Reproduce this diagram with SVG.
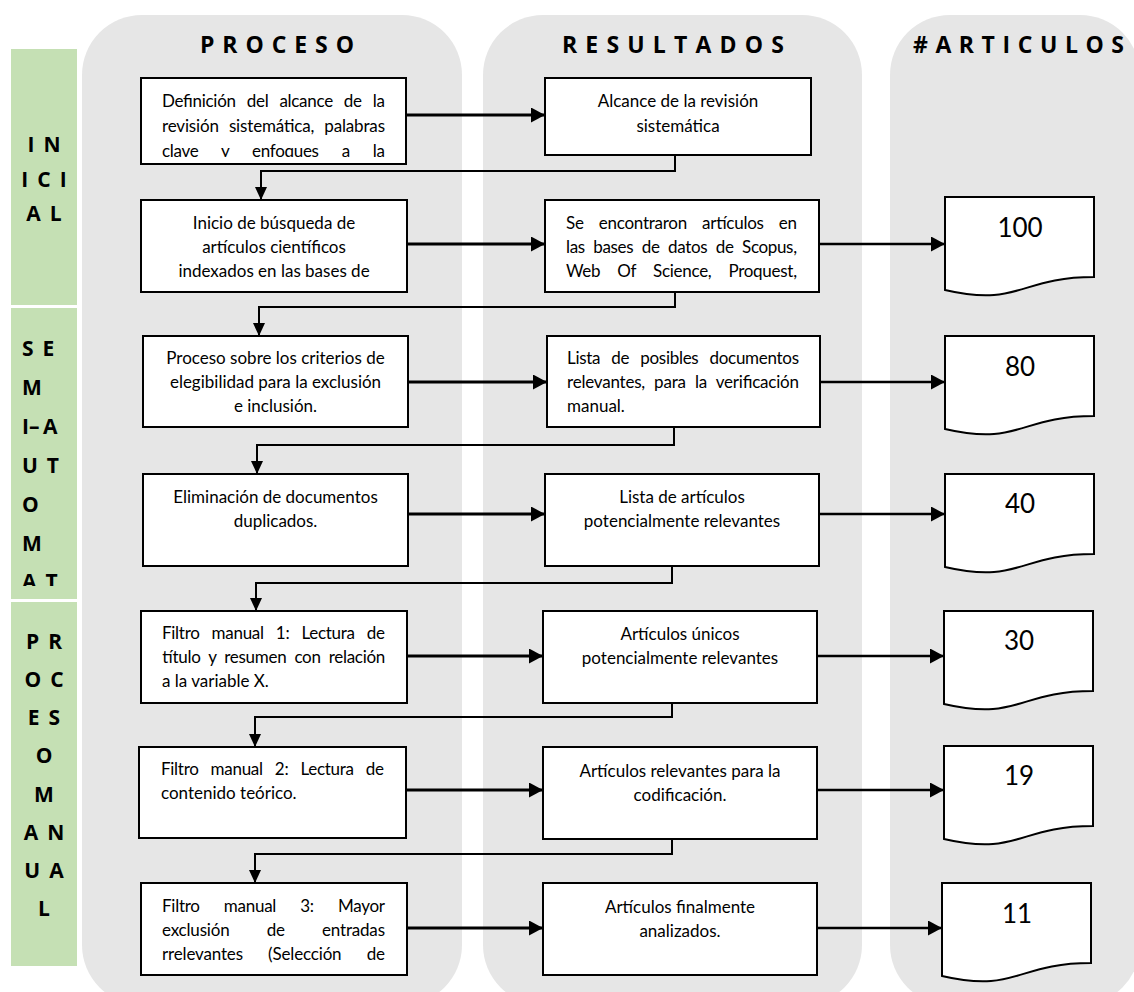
<svg xmlns="http://www.w3.org/2000/svg" width="1134" height="992" viewBox="0 0 1134 992">
<style>
.col{fill:#E6E6E6}
.side{fill:#C5E0B4}
.box{fill:#fff;stroke:#000;stroke-width:2}
.t{font-family:Lato,"Open Sans",sans-serif;font-size:17px;fill:#000}
.c{text-anchor:middle}
.num{font-family:Lato,"Open Sans",sans-serif;font-size:26px;text-anchor:middle;fill:#000}
.hdr{font-family:"Open Sans","DejaVu Sans",sans-serif;font-weight:700;font-size:23px;fill:#000}
.sd{font-family:"Open Sans","DejaVu Sans",sans-serif;font-weight:700;font-size:21px;fill:#000;letter-spacing:9px}
.sdc{text-anchor:middle}
.arr{stroke:#000;stroke-width:3;fill:none;marker-end:url(#ah)}
.arr2{stroke:#000;stroke-width:2.5;fill:none;marker-end:url(#ah)}
.elb{stroke:#000;stroke-width:2;fill:none;marker-end:url(#ahv)}
</style>
<defs>
<marker id="ah" markerUnits="userSpaceOnUse" markerWidth="14" markerHeight="15" refX="14" refY="7.5" orient="auto"><path d="M0,0 L14,7.5 L0,15 Z" fill="#000"/></marker>
<marker id="ahv" markerUnits="userSpaceOnUse" markerWidth="13" markerHeight="12" refX="13" refY="6" orient="auto"><path d="M0,0 L13,6 L0,12 Z" fill="#000"/></marker>
<path id="doc" d="M0,0 H149 V80 C74.5,80 74.5,110.4 0,93 Z" fill="#fff" stroke="#000" stroke-width="2"/>
<clipPath id="clipP1"><rect x="141" y="78" width="265" height="79"/></clipPath>
<clipPath id="clipSemi"><rect x="11" y="308" width="66" height="278"/></clipPath>
</defs>

<g id="columns">
<rect class="col" x="82" y="15" width="380" height="990" rx="60"/>
<rect class="col" x="483" y="15" width="379" height="990" rx="60"/>
<rect class="col" x="890" y="15" width="250" height="990" rx="60"/>
<text class="hdr" x="200" y="53" textLength="154" lengthAdjust="spacing">PROCESO</text>
<text class="hdr" x="562" y="53" textLength="222" lengthAdjust="spacing">RESULTADOS</text>
<text class="hdr" x="913" y="53" textLength="211" lengthAdjust="spacing">#ARTICULOS</text>
</g>

<g id="sidebar">
<rect class="side" x="11" y="49" width="66" height="256"/>
<rect class="side" x="11" y="308" width="66" height="291"/>
<rect class="side" x="11" y="602" width="66" height="364"/>
<text class="sd sdc" x="48.5" y="152">IN</text>
<text class="sd sdc" x="48.5" y="187">ICI</text>
<text class="sd sdc" x="48.5" y="221">AL</text>
<g clip-path="url(#clipSemi)">
<text class="sd" x="22" y="356">SE</text>
<text class="sd" x="22" y="395">M</text>
<text class="sd" x="22" y="434" style="letter-spacing:0">I–<tspan x="43">A</tspan></text>
<text class="sd" x="22" y="473">UT</text>
<text class="sd" x="22" y="512">O</text>
<text class="sd" x="22" y="551">M</text>
<text class="sd" x="22" y="589">AT</text>
</g>
<text class="sd sdc" x="48.5" y="649">PR</text>
<text class="sd sdc" x="48.5" y="687">OC</text>
<text class="sd sdc" x="48.5" y="725">ES</text>
<text class="sd sdc" x="48.5" y="763">O</text>
<text class="sd sdc" x="48.5" y="802">M</text>
<text class="sd sdc" x="48.5" y="840">AN</text>
<text class="sd sdc" x="48.5" y="878">UA</text>
<text class="sd sdc" x="48.5" y="916">L</text>
</g>

<g id="connectors">
<line class="arr" x1="406" y1="115" x2="545" y2="115"/>
<polyline class="elb" points="675,155 675,171 261,171 261,200"/>
<line class="arr" x1="407" y1="244" x2="545" y2="244"/>
<line class="arr2" x1="819" y1="244" x2="945" y2="244"/>
<polyline class="elb" points="675,292 675,307 259,307 259,336"/>
<line class="arr" x1="408" y1="382" x2="547" y2="382"/>
<line class="arr2" x1="820" y1="382" x2="945" y2="382"/>
<polyline class="elb" points="674,427 674,445 257,445 257,474"/>
<line class="arr" x1="408" y1="514" x2="545" y2="514"/>
<line class="arr2" x1="819" y1="514" x2="945" y2="514"/>
<polyline class="elb" points="672,566 672,583 256,583 256,611"/>
<line class="arr" x1="407" y1="656" x2="543" y2="656"/>
<line class="arr2" x1="817" y1="656" x2="944" y2="656"/>
<polyline class="elb" points="672,703 672,717 255,717 255,747"/>
<line class="arr" x1="406" y1="790" x2="543" y2="790"/>
<line class="arr2" x1="817" y1="790" x2="944" y2="790"/>
<polyline class="elb" points="672,839 672,854 255,854 255,883"/>
<line class="arr" x1="407" y1="928" x2="543" y2="928"/>
<line class="arr2" x1="817" y1="928" x2="942" y2="928"/>
</g>

<g id="p1">
<rect class="box" x="141" y="78" width="265" height="86"/>
<g clip-path="url(#clipP1)">
<text class="t" x="162" y="107" textLength="223" lengthAdjust="spacing" word-spacing="7">Definición del alcance de la</text>
<text class="t" x="162" y="131.5" textLength="223" lengthAdjust="spacing" word-spacing="6">revisión sistemática, palabras</text>
<text class="t" x="162" y="156.5" textLength="223" lengthAdjust="spacing" word-spacing="19">clave y enfoques a la</text>
</g>
</g>
<g id="r1">
<rect class="box" x="545" y="78" width="266" height="77"/>
<text class="t c" x="678" y="107">Alcance de la revisión</text>
<text class="t c" x="678" y="131.5">sistemática</text>
</g>

<g id="p2">
<rect class="box" x="141" y="200" width="266" height="92"/>
<text class="t c" x="274" y="229">Inicio de búsqueda de</text>
<text class="t c" x="274" y="253">artículos científicos</text>
<text class="t c" x="274" y="277">indexados en las bases de</text>
</g>
<g id="r2">
<rect class="box" x="545" y="200" width="274" height="92"/>
<text class="t" x="566" y="229" textLength="231" lengthAdjust="spacing" word-spacing="11">Se encontraron artículos en</text>
<text class="t" x="566" y="253" textLength="231" lengthAdjust="spacing" word-spacing="4.5">las bases de datos de Scopus,</text>
<text class="t" x="566" y="277" textLength="231" lengthAdjust="spacing" word-spacing="13">Web Of Science, Proquest,</text>
</g>
<g id="d2">
<use href="#doc" x="945" y="197"/>
<text class="num" x="1020" y="237">100</text>
</g>

<g id="p3">
<rect class="box" x="143" y="336" width="265" height="91"/>
<text class="t c" x="275.5" y="364">Proceso sobre los criterios de</text>
<text class="t c" x="275.5" y="388">elegibilidad para la exclusión</text>
<text class="t c" x="275.5" y="412">e inclusión.</text>
</g>
<g id="r3">
<rect class="box" x="547" y="336" width="273" height="91"/>
<text class="t" x="567" y="364" textLength="232" lengthAdjust="spacing" word-spacing="7">Lista de posibles documentos</text>
<text class="t" x="567" y="388" textLength="232" lengthAdjust="spacing" word-spacing="5">relevantes, para la verificación</text>
<text class="t" x="567" y="412">manual.</text>
</g>
<g id="d3">
<use href="#doc" x="945" y="336"/>
<text class="num" x="1020" y="376">80</text>
</g>

<g id="p4">
<rect class="box" x="143" y="474" width="265" height="92"/>
<text class="t c" x="275.5" y="503">Eliminación de documentos</text>
<text class="t c" x="275.5" y="527">duplicados.</text>
</g>
<g id="r4">
<rect class="box" x="545" y="474" width="274" height="92"/>
<text class="t c" x="682" y="503">Lista de artículos</text>
<text class="t c" x="682" y="527">potencialmente relevantes</text>
</g>
<g id="d4">
<use href="#doc" x="945" y="474"/>
<text class="num" x="1020" y="513">40</text>
</g>

<g id="p5">
<rect class="box" x="141" y="611" width="266" height="92"/>
<text class="t" x="162" y="639" textLength="223" lengthAdjust="spacing" word-spacing="8">Filtro manual 1: Lectura de</text>
<text class="t" x="162" y="663" textLength="223" lengthAdjust="spacing" word-spacing="4">título y resumen con relación</text>
<text class="t" x="162" y="687">a la variable X.</text>
</g>
<g id="r5">
<rect class="box" x="543" y="611" width="274" height="92"/>
<text class="t c" x="680" y="640">Artículos únicos</text>
<text class="t c" x="680" y="664">potencialmente relevantes</text>
</g>
<g id="d5">
<use href="#doc" x="944" y="611"/>
<text class="num" x="1019" y="650">30</text>
</g>

<g id="p6">
<rect class="box" x="139" y="747" width="267" height="91"/>
<text class="t" x="161" y="775" textLength="223" lengthAdjust="spacing" word-spacing="8">Filtro manual 2: Lectura de</text>
<text class="t" x="161" y="799">contenido teórico.</text>
</g>
<g id="r6">
<rect class="box" x="543" y="747" width="274" height="92"/>
<text class="t c" x="680" y="777">Artículos relevantes para la</text>
<text class="t c" x="680" y="801">codificación.</text>
</g>
<g id="d6">
<use href="#doc" x="944" y="746"/>
<text class="num" x="1019" y="785">19</text>
</g>

<g id="p7">
<rect class="box" x="141" y="883" width="266" height="92"/>
<text class="t" x="162" y="912" textLength="223" lengthAdjust="spacing" word-spacing="20">Filtro manual 3: Mayor</text>
<text class="t" x="162" y="936" textLength="223" lengthAdjust="spacing" word-spacing="33">exclusión de entradas</text>
<text class="t" x="162" y="960" textLength="223" lengthAdjust="spacing" word-spacing="21">rrelevantes (Selección de</text>
</g>
<g id="r7">
<rect class="box" x="543" y="883" width="274" height="92"/>
<text class="t c" x="680" y="913">Artículos finalmente</text>
<text class="t c" x="680" y="937">analizados.</text>
</g>
<g id="d7">
<use href="#doc" x="942" y="883"/>
<text class="num" x="1017" y="923">11</text>
</g>
</svg>
